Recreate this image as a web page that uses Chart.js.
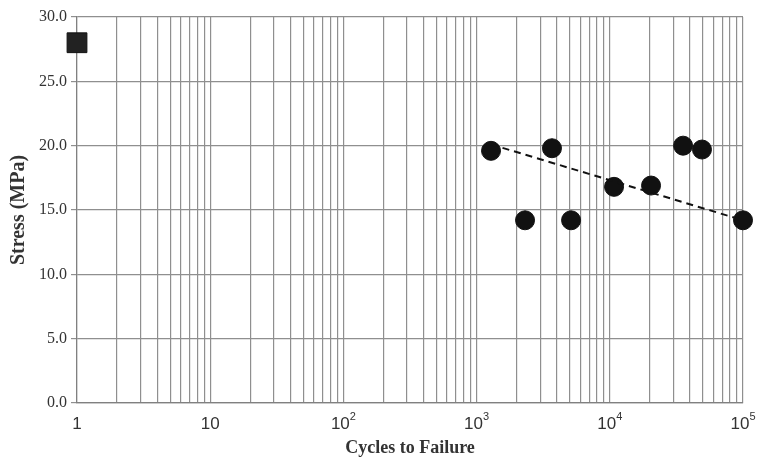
<!DOCTYPE html>
<html>
	<head>
		<title>Stress vs Cycles</title>
		<meta charset="UTF-8">
		<script src="https://cdn.jsdelivr.net/npm/chart.js@4"></script>
		<style>
			body { margin: 0; background: #fff; }
			#wrap { width: 779px; height: 468px; }
		</style>
	</head>
	<body>
		<div id="wrap"><canvas id="sn-chart"></canvas></div>
		<script>
			// measured specimens
			var cycles = [1283, 2310, 3680, 5120, 10760, 20400, 35500, 49200, 100000];
			var stress = [19.6, 14.2, 19.8, 14.2, 16.8, 16.9, 20.0, 19.7, 14.2];
			// single static point
			var staticCycles = [1];
			var staticStress = [28.0];
			// trend line end points
			var trendCycles = [1283, 100000];
			var trendStress = [20.1, 14.2];
			// axes
			var decades = [1, 10, 100, 1000, 10000, 100000];
			var decadeBase = ['1', '10', '10', '10', '10', '10'];
			var decadeExp = ['', '', '2', '3', '4', '5'];
			var yTicks = [0, 5, 10, 15, 20, 25, 30];

			function pts(xs, ys) {
				return xs.map(function (x, i) { return { x: x, y: ys[i] }; });
			}

			var xTickValues = [];
			decades.forEach(function (d, i) {
				if (i === decades.length - 1) { xTickValues.push(d); return; }
				for (var m = 1; m <= 9; m++) xTickValues.push(d * m);
			});

			// x labels drawn as base + raised exponent
			var powerLabels = {
				id: 'powerLabels',
				afterDraw: function (chart) {
					var ctx = chart.ctx;
					var xs = chart.scales.x;
					var y = xs.top + 21;
					ctx.save();
					ctx.fillStyle = '#333';
					ctx.textBaseline = 'middle';
					decades.forEach(function (d, i) {
						var px = xs.getPixelForValue(d);
						ctx.font = '17px "Liberation Sans"';
						var bw = ctx.measureText(decadeBase[i]).width;
						ctx.font = '11px "Liberation Sans"';
						var ew = decadeExp[i] ? ctx.measureText(decadeExp[i]).width : 0;
						var left = px - (bw + ew) / 2;
						ctx.textAlign = 'left';
						ctx.font = '17px "Liberation Sans"';
						ctx.fillText(decadeBase[i], left, y);
						if (decadeExp[i]) {
							ctx.font = '11px "Liberation Sans"';
							ctx.fillText(decadeExp[i], left + bw, y - 7);
						}
					});
					ctx.restore();
				}
			};

			new Chart(document.getElementById('sn-chart'), {
				type: 'scatter',
				data: {
					datasets: [{
						data: pts(trendCycles, trendStress),
						showLine: true,
						borderColor: '#111',
						borderWidth: 2,
						borderDash: [7, 5],
						pointRadius: 0
					}, {
						data: pts(cycles, stress),
						pointStyle: 'circle',
						pointRadius: 9.5,
						backgroundColor: '#111',
						borderColor: '#111',
						borderWidth: 1
					}, {
						data: pts(staticCycles, staticStress),
						pointStyle: 'rect',
						pointRadius: 14,
						backgroundColor: '#222',
						borderColor: '#111',
						borderWidth: 1
					}]
				},
				plugins: [powerLabels],
				options: {
					responsive: true,
					maintainAspectRatio: false,
					animation: false,
					clip: false,
					layout: { padding: { top: 17, right: 36, left: 0, bottom: 0 } },
					plugins: { legend: { display: false }, tooltip: { enabled: false } },
					scales: {
						x: {
							type: 'logarithmic',
							min: 1,
							max: 100000,
							afterBuildTicks: function (axis) {
								axis.ticks = xTickValues.map(function (v) { return { value: v }; });
							},
							afterFit: function (axis) { axis.height = 65; },
							grid: { color: '#8f8f8f', lineWidth: 1.2, drawTicks: false },
							border: { color: '#808080', width: 1.2 },
							ticks: {
								autoSkip: false,
								maxRotation: 0,
								padding: 8,
								font: { family: 'Liberation Sans', size: 17 },
								callback: function () { return ''; }
							},
							title: {
								display: true,
								text: 'Cycles to Failure',
								color: '#333',
								padding: { top: 0, bottom: 9 },
								font: { family: 'Liberation Serif', size: 18, weight: 'bold' }
							}
						},
						y: {
							min: 0,
							max: 30,
							afterBuildTicks: function (axis) {
								axis.ticks = yTicks.map(function (v) { return { value: v }; });
							},
							afterFit: function (axis) { axis.width = 77; },
							grid: { color: '#8f8f8f', lineWidth: 1.2, tickLength: 6 },
							border: { color: '#808080', width: 1.2 },
							ticks: {
								padding: 4,
								color: '#333',
								font: { family: 'Liberation Serif', size: 16 },
								callback: function (v) { return Number(v).toFixed(1); }
							},
							title: {
								display: true,
								text: 'Stress (MPa)',
								color: '#333',
								padding: { top: 7, bottom: 0 },
								font: { family: 'Liberation Serif', size: 20, weight: 'bold' }
							}
						}
					}
				}
			});
		</script>
	</body>
</html>
